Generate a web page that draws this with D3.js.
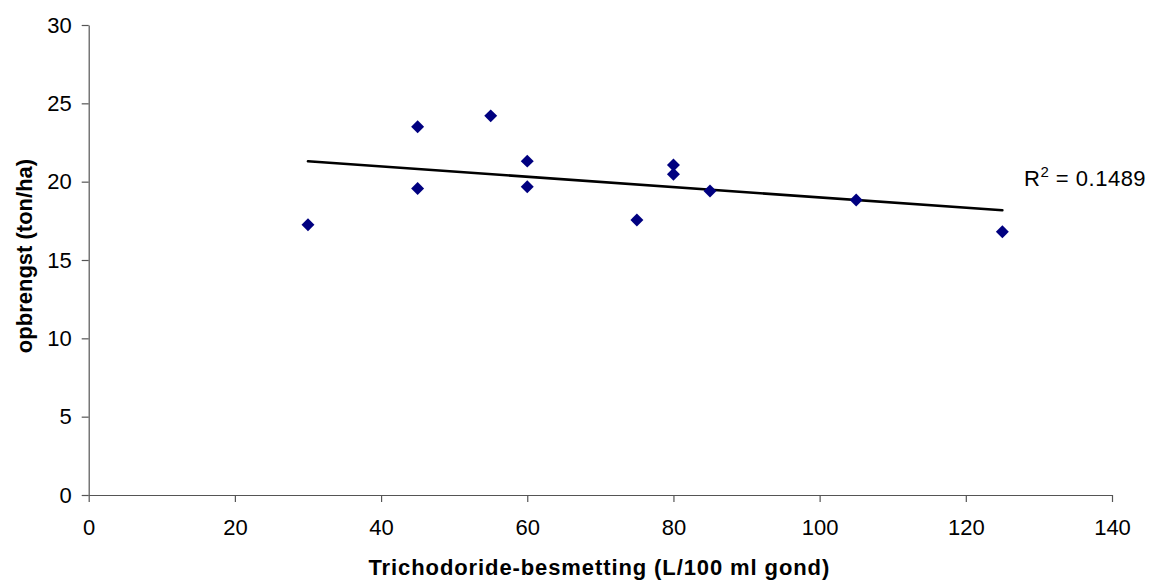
<!DOCTYPE html>
<html>
<head>
<meta charset="utf-8">
<script src="https://cdn.jsdelivr.net/npm/d3@7"></script>
<style>
  body { margin: 0; background: #fff; }
  svg { display: block; font-family: "Liberation Sans", Arial, sans-serif; }
</style>
</head>
<body>
<div id="chart"></div>
<script>
// data
const besmetting = [30, 45, 45, 55, 60, 60, 75, 80, 80, 85, 105, 125];
const opbrengst = [17.25, 23.5, 19.57, 24.2, 21.31, 19.68, 17.55, 21.06, 20.48, 19.4, 18.83, 16.8];
const xTicks = [0, 20, 40, 60, 80, 100, 120, 140];
const yTicks = [0, 5, 10, 15, 20, 25, 30];
const r2Label = "0.1489";

const width = 1152, height = 583;
const margin = { left: 88.7, right: 40, top: 25, bottom: 88 };

const svg = d3.select("#chart").append("svg")
    .attr("width", width)
    .attr("height", height);

const x = d3.scaleLinear().domain([0, 140]).range([margin.left, 1112]);
const y = d3.scaleLinear().domain([0, 30]).range([495, margin.top]);

// axes
const xAxis = svg.append("g")
    .attr("transform", `translate(0, ${y(0)})`)
    .call(d3.axisBottom(x).tickValues(xTicks).tickSize(7).tickPadding(17).tickSizeOuter(0));
const yAxis = svg.append("g")
    .attr("transform", `translate(${x(0)}, 0)`)
    .call(d3.axisLeft(y).tickValues(yTicks).tickSize(7).tickPadding(10).tickSizeOuter(0));

[xAxis, yAxis].forEach(a => {
    a.selectAll("path, line").attr("stroke", "#555").attr("stroke-width", 1.2);
    a.selectAll("text")
        .attr("fill", "#000")
        .style("font-size", "22px")
        .style("font-family", "'Liberation Sans', Arial, sans-serif");
});

// trend line (least squares)
const n = besmetting.length;
const mx = d3.mean(besmetting), my = d3.mean(opbrengst);
let sxy = 0, sxx = 0;
for (let i = 0; i < n; i++) {
    sxy += (besmetting[i] - mx) * (opbrengst[i] - my);
    sxx += (besmetting[i] - mx) ** 2;
}
const slope = sxy / sxx, intercept = my - slope * mx;
const xMin = d3.min(besmetting), xMax = d3.max(besmetting);

svg.append("line")
    .attr("x1", x(xMin)).attr("y1", y(intercept + slope * xMin))
    .attr("x2", x(xMax)).attr("y2", y(intercept + slope * xMax))
    .attr("stroke", "#000")
    .attr("stroke-width", 2.6)
    .attr("stroke-linecap", "round");

// points
const diamond = d3.symbol().type(d3.symbolSquare).size(84);
svg.append("g")
    .selectAll("path")
    .data(besmetting.map((d, i) => ({ x: d, y: opbrengst[i] })))
    .enter()
    .append("path")
    .attr("d", diamond)
    .attr("transform", d => `translate(${x(d.x)}, ${y(d.y)}) rotate(45)`)
    .attr("fill", "#000080");

// R² label
const r2 = svg.append("text")
    .attr("x", 1024)
    .attr("y", 186)
    .style("font-size", "22px")
    .style("letter-spacing", "0.5px")
    .attr("fill", "#000");
r2.append("tspan").text("R");
r2.append("tspan").attr("dy", -9).style("font-size", "15px").text("2");
r2.append("tspan").attr("dy", 9).text(" = " + r2Label);

// axis titles
svg.append("text")
    .attr("x", (x(0) + x(140)) / 2 - 1)
    .attr("y", 575)
    .attr("text-anchor", "middle")
    .style("font-size", "22px")
    .style("font-weight", "bold")
    .style("letter-spacing", "0.9px")
    .text("Trichodoride-besmetting (L/100 ml gond)");

svg.append("text")
    .attr("transform", `translate(32, ${(y(0) + y(30)) / 2 - 4}) rotate(-90)`)
    .attr("text-anchor", "middle")
    .style("font-size", "22px")
    .style("font-weight", "bold")
    .text("opbrengst (ton/ha)");
</script>
</body>
</html>
